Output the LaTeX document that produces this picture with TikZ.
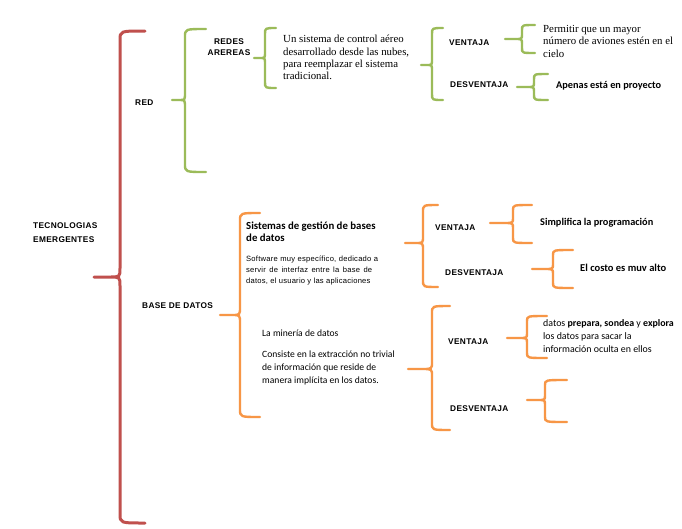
\documentclass[tikz,border=0pt]{standalone}
\usepackage{fontspec}
\setmainfont{Liberation Serif}
\newfontfamily\lab[LetterSpace=4]{Liberation Sans}
\newfontfamily\arl[LetterSpace=3]{Liberation Sans}
\newfontfamily\calfnt{Carlito}
\definecolor{bred}{RGB}{192,80,77}
\definecolor{bgreen}{RGB}{155,187,89}
\definecolor{borange}{RGB}{247,150,70}
% color, xe, xv, xc, yt, ym, yb, r
\newcommand\drawbrace[8]{%
  \draw[#1] (#2,#5) .. controls (#3,#5) .. (#3,#5+#8) -- (#3,#6-#8)
    .. controls (#3,#6) .. ({#3-0.4*(#3-#4)},#6) -- (#4,#6) -- ({#3-0.4*(#3-#4)},#6) .. controls (#3,#6) .. (#3,#6+#8)
    -- (#3,#7-#8) .. controls (#3,#7) .. (#2,#7);}
\begin{document}
\begin{tikzpicture}[x=1pt,y=-1pt,
  redb/.style={draw=bred,line width=3pt,line cap=round,line join=round},
  greenb/.style={draw=bgreen,line width=2.4pt,line cap=round,line join=round},
  orangeb/.style={draw=borange,line width=2.4pt,line cap=round,line join=round},
  caps/.style={inner sep=0pt,font=\lab\bfseries\fontsize{8.3}{11}\selectfont},
  serif/.style={inner sep=0pt,align=left,font=\fontsize{10.8}{12.4}\selectfont},
  calb/.style={inner sep=0pt,align=left,font=\calfnt\bfseries\fontsize{10.3}{12}\selectfont},
  calr/.style={inner sep=0pt,align=left,font=\calfnt\fontsize{9.6}{13}\selectfont}]
\useasboundingbox[fill=white] (0,0) rectangle (682,528);

% braces
\drawbrace{redb}{145}{120}{94}{31}{277}{523}{9}
\drawbrace{greenb}{206}{185}{172}{29}{100}{172}{8}
\drawbrace{greenb}{276}{265}{254}{28}{58}{88}{6}
\drawbrace{greenb}{443}{432}{421}{28}{65}{100}{6}
\drawbrace{greenb}{535}{522}{505}{25}{39}{53}{5}
\drawbrace{greenb}{548}{534}{517}{74}{87}{100}{5}
\drawbrace{orangeb}{260}{240}{220}{213}{315}{417}{8}
\drawbrace{orangeb}{438}{423}{405}{205}{243}{287}{7}
\drawbrace{orangeb}{532}{513}{490}{205}{223}{243}{5}
\drawbrace{orangeb}{573}{553}{532}{250}{269}{288}{5}
\drawbrace{orangeb}{450}{432}{408}{306}{369}{430}{7}
\drawbrace{orangeb}{547}{527}{507}{316}{338}{358}{5}
\drawbrace{orangeb}{567}{545}{527}{380}{400}{422}{5}

% texts
\node[caps,align=left,anchor=north west,font=\lab\bfseries\fontsize{8.3}{14}\selectfont] (tec) at (33,222) {TECNOLOGIAS\\EMERGENTES};
\node[caps,anchor=west] (red) at (135,103) {RED};
\node[caps,align=center] (redes) at (229,47) {REDES\\AREREAS};
\node[serif,anchor=north west] (un) at (283,35) {Un sistema de control aéreo\\desarrollado desde las nubes,\\para reemplazar el sistema\\tradicional.};
\node[caps,anchor=west] (v1) at (449,43) {VENTAJA};
\node[caps,anchor=west] (d1) at (450,85) {DESVENTAJA};
\node[serif,anchor=north west] (perm) at (543,25) {Permitir que un mayor\\número de aviones estén en el\\cielo};
\node[calb,anchor=west] (apenas) at (556,86) {Apenas está en proyecto};

\node[caps,anchor=west] (bd) at (142,306) {BASE DE DATOS};
\node[calb,anchor=north west,font=\calfnt\bfseries\fontsize{10.8}{12}\selectfont] (sgbd) at (246,222) {Sistemas de gestión de bases\\de datos};
\node[inner sep=0pt,anchor=north west,align=left,font=\arl\fontsize{7.6}{11}\selectfont] (soft) at (246,256) {\hbox to 132pt{Software muy específico, dedicado a}\\\hbox to 126pt{servir de interfaz entre la base de}\\datos, el usuario y las aplicaciones};
\node[caps,anchor=west] (v2) at (435,228) {VENTAJA};
\node[caps,anchor=west] (d2) at (445,273) {DESVENTAJA};
\node[calb,anchor=west] (simp) at (540,223) {Simplifica la programación};
\node[calb,anchor=west,font=\calfnt\bfseries\fontsize{10.5}{12}\selectfont] (costo) at (580,268) {El costo es muv alto};

\node[calr,anchor=west] (min) at (262,333) {La minería de datos};
\node[calr,anchor=north west] (cons) at (262,351) {Consiste en la extracción no trivial\\de información que reside de\\manera implícita en los datos.};
\node[caps,anchor=west] (v3) at (448,342) {VENTAJA};
\node[caps,anchor=west] (d3) at (450,409) {DESVENTAJA};
\node[calr,anchor=north west,font=\calfnt\fontsize{9.9}{13}\selectfont] (datos) at (543,319) {datos \textbf{prepara, sondea} y \textbf{explora}\\los datos para sacar la\\información oculta en ellos};
\end{tikzpicture}
\end{document}
